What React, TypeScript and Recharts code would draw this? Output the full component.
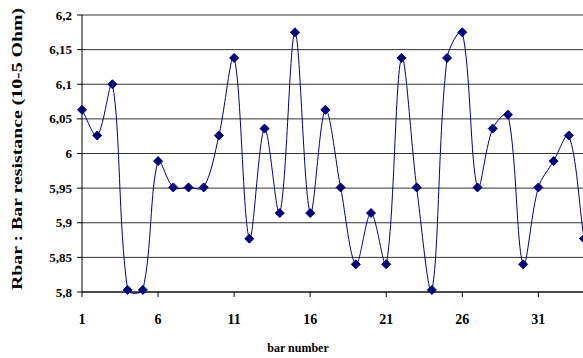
import { LineChart, Line, XAxis, YAxis, CartesianGrid } from 'recharts'

const barNumbers = [
  1, 2, 3, 4, 5, 6, 7, 8, 9, 10, 11, 12, 13, 14, 15, 16, 17, 18, 19, 20, 21, 22, 23, 24, 25, 26, 27,
  28, 29, 30, 31, 32, 33, 34,
]
const resistance = [
  6.063, 6.026, 6.1, 5.803, 5.803, 5.989, 5.951, 5.951, 5.951, 6.026, 6.138, 5.877, 6.036, 5.914,
  6.175, 5.914, 6.063, 5.951, 5.84, 5.914, 5.84, 6.138, 5.951, 5.803, 6.138, 6.175, 5.951, 6.036,
  6.056, 5.84, 5.951, 5.989, 6.026, 5.877,
]
const xTicks = [1, 6, 11, 16, 21, 26, 31]
const yTicks = [5.8, 5.85, 5.9, 5.95, 6, 6.05, 6.1, 6.15, 6.2]

const data = barNumbers.map((bar, i) => ({ bar, r: resistance[i] }))

const NAVY = '#000080'
const FONT = '"Liberation Serif", "Times New Roman", serif'

// excel-like smoothing: bezier with tangents weighted by segment length
const excelCurve = (ctx: any) => {
  let pts: number[][] = []
  const dist = (a: number[], b: number[]) => Math.hypot(a[0] - b[0], a[1] - b[1])
  return {
    areaStart() {},
    areaEnd() {},
    lineStart() {
      pts = []
    },
    point(x: number, y: number) {
      pts.push([+x, +y])
    },
    lineEnd() {
      if (!pts.length) return
      ctx.moveTo(pts[0][0], pts[0][1])
      for (let i = 0; i < pts.length - 1; i++) {
        const p0 = pts[i - 1] || pts[i]
        const p1 = pts[i]
        const p2 = pts[i + 1]
        const p3 = pts[i + 2] || pts[i + 1]
        const d01 = dist(p0, p1)
        const d12 = dist(p1, p2)
        const d23 = dist(p2, p3)
        const f1 = d01 + d12 > 0 ? d12 / (d01 + d12) / 3 : 0
        const f2 = d12 + d23 > 0 ? d12 / (d12 + d23) / 3 : 0
        ctx.bezierCurveTo(
          p1[0] + (p2[0] - p0[0]) * f1,
          p1[1] + (p2[1] - p0[1]) * f1,
          p2[0] - (p3[0] - p1[0]) * f2,
          p2[1] - (p3[1] - p1[1]) * f2,
          p2[0],
          p2[1]
        )
      }
    },
  }
}

function Diamond(props: any) {
  const { cx, cy } = props
  if (cx == null || cy == null) return null
  const s = 4.5
  return (
    <polygon
      points={`${cx},${cy - s} ${cx + s},${cy} ${cx},${cy + s} ${cx - s},${cy}`}
      fill={NAVY}
      stroke={NAVY}
    />
  )
}

const fmt = (v: number) => String(Number(v.toFixed(2))).replace('.', ',')

export default function App() {
  return (
    <div style={{ position: 'absolute', left: 0, top: 0, width: 583, height: 358, overflow: 'hidden', background: '#fff' }}>
      <LineChart width={584} height={358} data={data} margin={{ top: 15, right: 0, left: 0, bottom: 0 }}>
        <CartesianGrid vertical={false} stroke="#333" strokeWidth={1} />
        <XAxis
          dataKey="bar"
          type="number"
          domain={[1, 34]}
          ticks={xTicks}
          height={66}
          stroke="#000"
          tickSize={5}
          tickMargin={17}
          tick={{ fontFamily: FONT, fontWeight: 'bold', fontSize: 14, fill: '#000' }}
          label={{
            content: () => (
              <text x={298} y={352} textAnchor="middle" fontFamily={FONT} fontWeight="bold" fontSize={12} fill="#000">
                bar number
              </text>
            ),
          }}
        />
        <YAxis
          type="number"
          domain={[5.8, 6.2]}
          ticks={yTicks}
          width={82}
          stroke="#000"
          tickSize={5}
          tickMargin={5}
          tickFormatter={fmt}
          tick={{ fontFamily: FONT, fontWeight: 'bold', fontSize: 13, fill: '#000' }}
          label={{
            content: () => (
              <text
                x={22}
                y={149}
                transform="rotate(-90 22 149)"
                textAnchor="middle"
                fontFamily={FONT}
                fontWeight="bold"
                fontSize={14}
                textLength={282}
                lengthAdjust="spacingAndGlyphs"
                fill="#000"
              >
                Rbar : Bar resistance (10-5 Ohm)
              </text>
            ),
          }}
        />
        <Line
          dataKey="r"
          type={excelCurve as any}
          stroke={NAVY}
          strokeWidth={1}
          dot={<Diamond />}
          activeDot={false}
          isAnimationActive={false}
        />
      </LineChart>
    </div>
  )
}
